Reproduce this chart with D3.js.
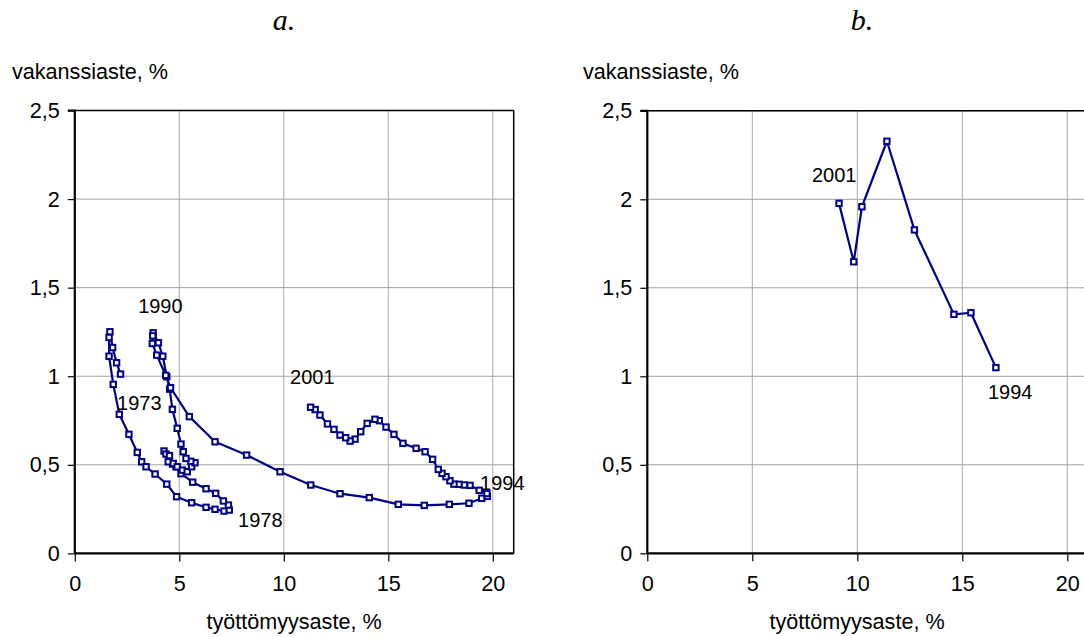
<!DOCTYPE html>
<html>
<head>
<meta charset="utf-8">
<script src="https://cdn.jsdelivr.net/npm/d3@7"></script>
<style>
  html, body { margin: 0; padding: 0; background: #fff; }
  svg { display: block; }
  text { fill: #000; }
</style>
</head>
<body>
<svg id="chart" width="1084" height="637"></svg>
<script>
// ---- Data ----
// Panel a: unemployment rate (%) vs vacancy rate (%), 1973-2001
const aUnemp = [2.19,2.00,1.81,1.68,1.64,1.64,1.84,2.13,2.59,2.99,3.20,3.41,3.84,4.40,4.87,5.59,6.28,6.71,7.14,7.39,
  7.35,7.11,6.74,6.28,5.64,5.08,4.84,4.68,4.47,4.27,4.36,4.53,4.71,4.90,5.15,5.38,5.59,5.75,5.55,5.32,
  5.19,5.08,4.90,4.67,4.54,4.40,4.21,4.00,3.75,3.73,3.71,3.92,4.35,4.58,5.48,6.71,8.22,9.82,11.29,12.69,
  14.09,15.48,16.72,17.92,18.86,19.47,19.74,19.72,19.35,18.91,18.64,18.38,18.14,17.95,17.76,17.57,17.39,17.12,16.76,16.33,
  15.70,15.27,14.89,14.57,14.36,13.99,13.68,13.41,13.17,12.96,12.69,12.40,12.09,11.73,11.50,11.28];
const aVacancy = [1.012,1.076,1.162,1.251,1.219,1.113,0.954,0.785,0.672,0.570,0.517,0.489,0.448,0.391,0.320,0.286,0.260,0.249,0.239,0.245,
  0.273,0.296,0.339,0.365,0.402,0.450,0.489,0.504,0.517,0.578,0.561,0.552,0.508,0.489,0.470,0.461,0.489,0.512,0.520,0.536,
  0.574,0.617,0.706,0.813,0.927,0.997,1.113,1.189,1.245,1.228,1.185,1.119,1.005,0.935,0.772,0.630,0.555,0.461,0.386,0.337,
  0.315,0.277,0.271,0.277,0.283,0.311,0.322,0.338,0.356,0.384,0.386,0.390,0.391,0.410,0.433,0.452,0.474,0.531,0.574,0.593,
  0.621,0.672,0.713,0.749,0.757,0.734,0.687,0.645,0.634,0.653,0.668,0.700,0.731,0.781,0.812,0.825];
const aLabels = ["1973","1990","1978","1994","2001"];
const aLabelX = [2.02, 3.03, 7.81, 19.39, 10.30];
const aLabelY = [0.809, 1.356, 0.149, 0.358, 0.956];

// Panel b: annual values 1994-2001
const bUnemp = [16.6, 15.41, 14.6, 12.72, 11.41, 10.22, 9.83, 9.13];
const bVacancy = [1.049, 1.359, 1.35, 1.827, 2.328, 1.958, 1.647, 1.977];
const bLabels = ["2001","1994"];
const bLabelX = [7.84, 16.22];
const bLabelY = [2.098, 0.872];

const xTicks = [0, 5, 10, 15, 20];
const yTicks = [0, 0.5, 1, 1.5, 2, 2.5];
const yTickLabels = ["0", "0,5", "1", "1,5", "2", "2,5"];
const panelTitles = ["a.", "b."];
const yTitle = "vakanssiaste, %";
const xTitle = "työttömyysaste, %";

// ---- Drawing ----
const svg = d3.select("#chart");
const NAVY = "#000080";
const FS = 21.6;
const SANS = "'Liberation Sans', Arial, sans-serif";
const SERIF = "'Liberation Serif', 'Times New Roman', serif";

function panel(cfg) {
  const x = d3.scaleLinear().domain([0, 21]).range([cfg.left, cfg.right]);
  const y = d3.scaleLinear().domain([0, 2.5]).range([cfg.bottom, cfg.top]);
  const g = svg.append("g");

  // gridlines
  g.selectAll(".vg").data(xTicks.filter(d => d > 0)).join("line")
    .attr("x1", d => x(d)).attr("x2", d => x(d))
    .attr("y1", y(0)).attr("y2", y(2.5))
    .attr("stroke", "#a8a8a8").attr("stroke-width", 1);
  g.selectAll(".hg").data(yTicks.filter(d => d > 0)).join("line")
    .attr("x1", x(0)).attr("x2", x(21))
    .attr("y1", d => y(d)).attr("y2", d => y(d))
    .attr("stroke", "#a0a0a0").attr("stroke-width", 1);

  // frame (top & right)
  g.append("line").attr("x1", x(0)).attr("x2", x(21)).attr("y1", y(2.5)).attr("y2", y(2.5))
    .attr("stroke", "#000").attr("stroke-width", 1.5);
  g.append("line").attr("x1", x(21)).attr("x2", x(21)).attr("y1", y(0)).attr("y2", y(2.5))
    .attr("stroke", "#000").attr("stroke-width", 1.5);

  // axes
  const xAxis = d3.axisBottom(x).tickValues(xTicks).tickSize(8).tickPadding(14).tickFormat(d3.format("d"));
  const yAxis = d3.axisLeft(y).tickValues(yTicks).tickSize(7).tickPadding(8)
    .tickFormat((d, i) => yTickLabels[i]);
  const gx = g.append("g").attr("transform", `translate(0,${y(0)})`).call(xAxis);
  const gy = g.append("g").attr("transform", `translate(${x(0)},0)`).call(yAxis);
  [gx, gy].forEach(a => {
    a.select(".domain").attr("stroke", "#000").attr("stroke-width", 2.2);
    a.selectAll(".tick line").attr("stroke", "#000").attr("stroke-width", 1.2);
    a.selectAll(".tick text").style("font-size", FS + "px").style("font-family", SANS).style("fill", "#000");
  });
  gy.select(".domain").attr("d", `M-7,${y(2.5)}H0V${y(0)}`);
  gx.select(".domain").attr("d", `M${x(0)},0H${x(21)}`);

  // series line
  const pts = cfg.xs.map((v, i) => [v, cfg.ys[i]]);
  g.append("path").datum(pts)
    .attr("d", d3.line().x(d => x(d[0])).y(d => y(d[1])))
    .attr("fill", "none").attr("stroke", NAVY).attr("stroke-width", 2.2).attr("stroke-linejoin", "round");
  const s = 5.4;
  g.selectAll(".m").data(pts).join("rect")
    .attr("x", d => x(d[0]) - s / 2).attr("y", d => y(d[1]) - s / 2)
    .attr("width", s).attr("height", s)
    .attr("fill", "#fff").attr("stroke", NAVY).attr("stroke-width", 2);

  // year labels
  g.selectAll(".lbl").data(cfg.labels).join("text")
    .attr("x", (d, i) => x(cfg.lx[i])).attr("y", (d, i) => y(cfg.ly[i]))
    .style("font-family", SANS).style("font-size", "20px").text(d => d);

  // titles
  svg.append("text").attr("x", cfg.titleX).attr("y", 30).attr("text-anchor", "middle")
    .style("font-family", SERIF).style("font-style", "italic")
    .style("font-size", "30px").text(cfg.title);
  svg.append("text").attr("x", cfg.yTitleX).attr("y", 79)
    .style("font-family", SANS).style("font-size", FS + "px").text(yTitle);
  svg.append("text").attr("x", cfg.xTitleX).attr("y", 629).attr("text-anchor", "middle")
    .style("font-family", SANS).style("font-size", FS + "px").text(xTitle);
}

panel({ left: 74.8, right: 513.7, top: 110.5, bottom: 553.4, xs: aUnemp, ys: aVacancy,
  labels: aLabels, lx: aLabelX, ly: aLabelY, title: panelTitles[0], titleX: 284, yTitleX: 12, xTitleX: 294 });
panel({ left: 647.3, right: 1088.3, top: 110.8, bottom: 553.3, xs: bUnemp, ys: bVacancy,
  labels: bLabels, lx: bLabelX, ly: bLabelY, title: panelTitles[1], titleX: 862, yTitleX: 583, xTitleX: 857 });
</script>
</body>
</html>
